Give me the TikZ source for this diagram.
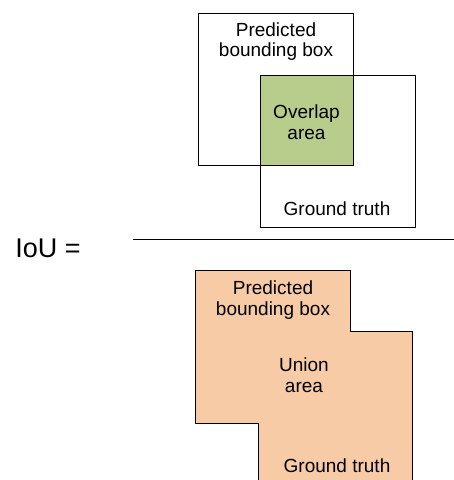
\documentclass[tikz,border=0pt]{standalone}
\usepackage{fontspec}
\setmainfont{Liberation Sans}
\definecolor{overlapgreen}{RGB}{184,204,139}
\definecolor{unionpeach}{RGB}{248,203,167}
\begin{document}
\begin{tikzpicture}[x=1bp,y=-1bp,
  boxline/.style={draw=black,line width=0.9bp},
  lbl/.style={align=center,inner sep=0pt,font=\fontsize{19bp}{20.5bp}\selectfont},
  bigl/.style={inner sep=0pt,font=\fontsize{27bp}{30bp}\selectfont}]
\useasboundingbox (0,0) rectangle (454,480);

% numerator: the two boxes and their overlap
\coordinate (pa) at (198,13);
\coordinate (pb) at (353,165);
\coordinate (ga) at (260,75);
\coordinate (gb) at (415,227);
\fill[fill=white] (pa) rectangle (pb);
\fill[overlapgreen] (ga) rectangle (pb);
\draw[boxline] (pa) rectangle (pb);
\draw[boxline] (ga) rectangle (gb);
\node[lbl] (predtop) at (276,41.5) {Predicted\\bounding box};
\node[lbl] (overlap) at (306.5,122) {Overlap\\area};
\node[lbl] (gttop) at (337,209) {Ground truth};

% fraction bar and label
\node[bigl] (iou) at (48,248) {IoU =};
\coordinate (barl) at (133,239);
\coordinate (barr) at (454,239);
\draw[line width=1bp] (barl) -- (barr);

% denominator: union of the two boxes
\coordinate (u1) at (258,480);
\coordinate (u2) at (258,423);
\coordinate (u3) at (195,423);
\coordinate (u4) at (195,270);
\coordinate (u5) at (350,270);
\coordinate (u6) at (350,331);
\coordinate (u7) at (412,331);
\coordinate (u8) at (412,480);
\fill[unionpeach] (u1) -- (u2) -- (u3) -- (u4) -- (u5) -- (u6) -- (u7) -- (u8) -- cycle;
\draw[boxline] (u1) -- (u2) -- (u3) -- (u4) -- (u5) -- (u6) -- (u7) -- (u8);
\node[lbl] (predbot) at (273,300) {Predicted\\bounding box};
\node[lbl] (union) at (304,375) {Union\\area};
\node[lbl] (gtbot) at (337,466) {Ground truth};
\end{tikzpicture}
\end{document}
